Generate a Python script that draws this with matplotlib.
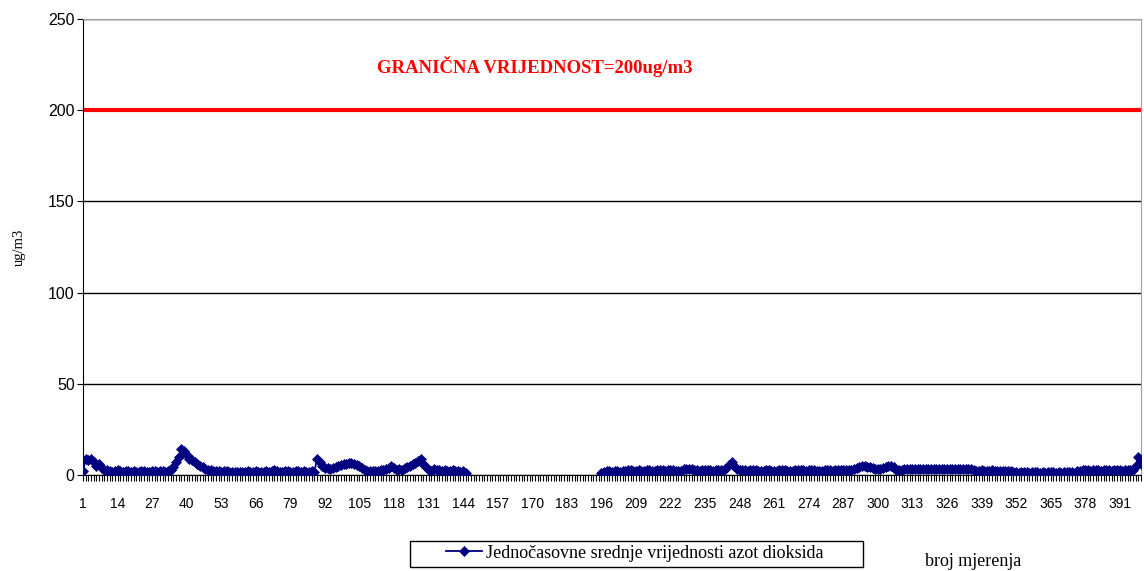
import numpy as np
import matplotlib
matplotlib.use('Agg')
import matplotlib.pyplot as plt
from matplotlib.ticker import MultipleLocator, FixedLocator
from matplotlib.patches import Rectangle

# hourly NO2 means, measurements 1..145, gap, 196..399
seg1 = [2, 9, 8, 9, 7, 5, 6, 4, 3, 2.5,
        2, 1.5, 2, 2.5, 2, 1.5, 2, 2, 1.5, 2,
        1.8, 1.5, 2, 2.2, 1.8, 1.5, 2, 2, 1.5, 2,
        2.2, 1.8, 2, 3, 4.5, 7, 10, 14, 13, 11,
        9, 8, 7, 6, 5, 4.5, 3.5, 3, 2.5, 2.2,
        2, 2, 1.5, 2, 2, 1.8, 1.5, 1.8, 1.5, 1.5,
        1.5, 1.8, 2, 1.5, 1.5, 2, 1.8, 1.5, 1.5, 2,
        1.8, 2, 2.5, 2, 1.5, 1.5, 2, 2, 1.8, 1.5,
        2, 2.2, 1.8, 2, 1.5, 1.5, 2, 1.8, 8.5, 7,
        5, 4, 3.8, 3.5, 4, 4.5, 5, 5.5, 6, 6,
        6.5, 6.5, 6, 5.5, 5, 4, 3, 2, 2, 2,
        2, 2, 2.5, 3, 3.5, 4, 5, 4, 3, 3.5,
        3, 4, 4.5, 5, 6, 6.5, 7.5, 8.5, 6, 4.5,
        3, 2, 3.5, 3, 2.5, 2, 2.5, 2, 2, 2.5,
        2, 2, 1.5, 2, 1]
seg2 = [1, 1.5, 2, 2, 1.5, 2, 2, 1.5, 2, 2,
        3, 2.5, 2, 2.2, 2.5, 2, 2.2, 2.7, 2.5, 2,
        2.2, 2.5, 2.7, 2.5, 2.2, 2.5, 2.7, 2.5, 2.2, 2,
        2.2, 3.5, 3.5, 3.5, 3.5, 2.5, 2.5, 2.2, 2.5, 2.7,
        2.5, 2.5, 2.2, 2.5, 2.5, 2.7, 2.5, 4, 5.5, 7,
        5, 3.5, 2.7, 2.5, 2.5, 2.2, 2.5, 2.7, 2.5, 2.2,
        2, 2.2, 2.5, 2.5, 2.2, 2, 2.2, 2.5, 2.7, 2.5,
        2.2, 2, 2.2, 2.5, 2.5, 2.7, 2.5, 2.2, 2.5, 2.7,
        2.5, 2.2, 2, 2.2, 2.5, 2.7, 2.5, 2.2, 2.5, 2.7,
        2.5, 2.5, 2.7, 2.5, 3, 3.5, 4, 4.5, 5, 5,
        4.5, 4.5, 4, 3.5, 3.5, 3.5, 4, 4.5, 5, 5,
        4.5, 3, 2.5, 2.7, 3.2, 3.5, 3.3, 3.5, 3.2, 3.5,
        3.5, 3.3, 3.2, 3.5, 3.5, 3.3, 3.2, 3.5, 3.3, 3.2,
        3.5, 3.5, 3.2, 3.3, 3.5, 3.2, 3.3, 3.5, 3.2, 3.5,
        2.5, 2.2, 2, 2.5, 2.2, 2, 2.2, 2.5, 2.2, 2,
        2.2, 2, 2.2, 2, 2, 1.8, 1.5, 1.3, 1.5, 1.8,
        1.5, 1.3, 1.5, 1.8, 1.5, 1.3, 1.5, 1.3, 1.5, 1.8,
        1.5, 1.3, 1.5, 1.3, 1.5, 1.8, 1.5, 1.5, 1.3, 2,
        2.2, 2.5, 2.7, 2.5, 2.2, 2.5, 2.7, 2.5, 2.2, 2.5,
        2.7, 2.5, 2.2, 2.5, 2.7, 2.5, 2.2, 2.5, 2.7, 2.5,
        2.7, 5, 10, 6]
gap_len = 196 - 1 - len(seg1)
values = seg1 + [np.nan] * gap_len + seg2
n = len(values)
x = np.arange(1, n + 1)

limit = 200
limit_label = 'GRANIČNA VRIJEDNOST=200ug/m3'
series_label = 'Jednočasovne srednje vrijednosti azot dioksida'
tick_labels = list(range(1, n + 1, 13))

fig = plt.figure(figsize=(11.44, 5.71), dpi=100)
ax = fig.add_axes([83 / 1144, 1 - 475 / 571, (1141 - 83) / 1144, (475 - 19) / 571])

ax.set_ylim(0, 250)
ax.set_xlim(1, n)
ax.yaxis.set_major_locator(MultipleLocator(50))
ax.grid(axis='y', color='black', linewidth=1)
ax.set_axisbelow(True)

ax.axhline(limit, color='red', linewidth=3, zorder=2)
ax.text(171, 224, limit_label, color='red', fontsize=13.5, fontweight='bold',
        family='Liberation Serif', ha='center', va='center')

line, = ax.plot(x, values, color='#000080', linewidth=1.3, marker='D',
                markersize=5.2, markeredgewidth=0.5, zorder=3,
                label=series_label)

ax.xaxis.set_major_locator(FixedLocator(tick_labels))
ax.xaxis.set_minor_locator(MultipleLocator(1))
ax.tick_params(axis='x', which='both', length=4.5, width=0.8, direction='out', pad=11)
ax.tick_params(axis='y', length=4, direction='out', pad=2)
for lab in ax.get_xticklabels():
    lab.set_family('Liberation Sans')
    lab.set_fontsize(10)
for lab in ax.get_yticklabels():
    lab.set_family('Liberation Sans')
    lab.set_fontsize(11.5)

for s in ['top', 'right']:
    ax.spines[s].set_color('#a0a0a0')
for s in ['left', 'bottom']:
    ax.spines[s].set_color('black')

ax.set_ylabel('ug/m3', family='Liberation Serif', fontsize=10.5, labelpad=16)

# legend box as drawn in the original (wide frame)
fig.patches.append(Rectangle((410 / 1144, 1 - 567 / 571), 453 / 1144, 26 / 571,
                             transform=fig.transFigure, facecolor='white',
                             edgecolor='black', linewidth=1))
fig.legend(handles=[line], loc='center left', bbox_to_anchor=(446 / 1144, 1 - 553 / 571),
           frameon=False, prop={'family': 'Liberation Serif', 'size': 13},
           handlelength=2.0, handletextpad=0.2, borderpad=0, borderaxespad=0)
fig.text(973 / 1144, 1 - 562 / 571, 'broj mjerenja', family='Liberation Serif',
         fontsize=13, ha='center', va='center')

fig.savefig('out.png', dpi=100)
